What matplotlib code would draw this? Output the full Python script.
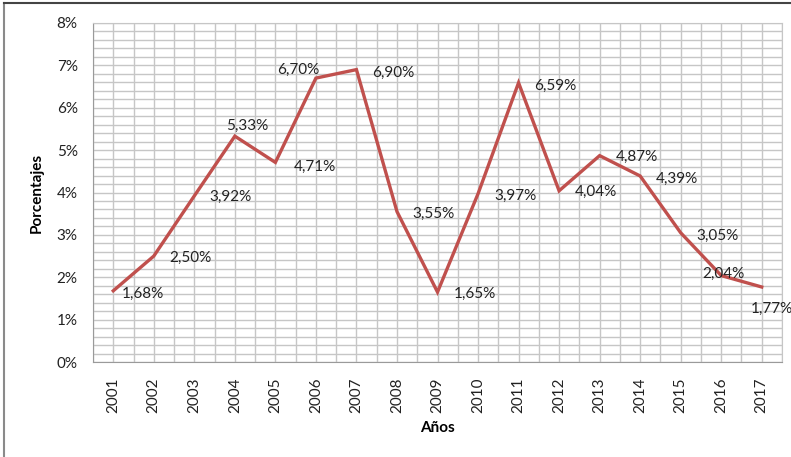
import matplotlib
matplotlib.use("Agg")
import matplotlib.pyplot as plt
from matplotlib.ticker import MultipleLocator, FuncFormatter
from matplotlib.lines import Line2D

years = ['2001', '2002', '2003', '2004', '2005', '2006', '2007', '2008', '2009',
         '2010', '2011', '2012', '2013', '2014', '2015', '2016', '2017']
values = [1.68, 2.50, 3.92, 5.33, 4.71, 6.70, 6.90, 3.55, 1.65,
          3.97, 6.59, 4.04, 4.87, 4.39, 3.05, 2.04, 1.77]
labels = ['1,68%', '2,50%', '3,92%', '5,33%', '4,71%', '6,70%', '6,90%', '3,55%', '1,65%',
          '3,97%', '6,59%', '4,04%', '4,87%', '4,39%', '3,05%', '2,04%', '1,77%']

# label offsets in pixels (dx right, dy up) as placed in the original
offsets = [(30, -3), (37, -2), (36, -1), (12, 10), (40, -4), (-18, 8), (37, -3),
           (37, -2), (37, -2), (37, -2), (37, -3), (37, -1), (37, -1), (37, -3),
           (37, -3), (2, 2), (10, -22)]

plt.rcParams['font.family'] = ['Lato', 'DejaVu Sans']

fig = plt.figure(figsize=(7.91, 4.57), dpi=100)
ax = fig.add_axes([93 / 791, 95 / 457, (782 - 93) / 791, (362 - 23) / 457])

x = list(range(len(years)))
ax.plot(x, values, color='#C0504D', linewidth=2.4, solid_joinstyle='miter', zorder=3)

for i, (v, lab) in enumerate(zip(values, labels)):
    dx, dy = offsets[i]
    ax.annotate(lab, (i, v), xytext=(dx, dy), textcoords='offset pixels',
                ha='center', va='center', fontsize=11, color='#222222',
                annotation_clip=False, zorder=4)

ax.set_xlim(-0.5, len(years) - 0.5)
ax.set_ylim(0, 8)

ax.set_xticks(x)
ax.set_xticklabels(years, rotation=90, fontsize=11, color='#222222')
ax.xaxis.set_minor_locator(MultipleLocator(0.5))
ax.yaxis.set_major_locator(MultipleLocator(1))
ax.yaxis.set_minor_locator(MultipleLocator(0.2))
ax.yaxis.set_major_formatter(FuncFormatter(lambda v, p: f'{v:.0f}%'))
ax.tick_params(axis='both', which='both', length=0, labelsize=11, labelcolor='#222222')
ax.tick_params(axis='x', pad=11)
ax.tick_params(axis='y', pad=11)

ax.grid(True, which='both', color='#c6c6c6', linewidth=1.0)
ax.set_axisbelow(True)
for side in ['top', 'right']:
    ax.spines[side].set_color('#c6c6c6')
for side in ['left', 'bottom']:
    ax.spines[side].set_color('#9a9a9a')

ax.set_xlabel('Años', fontsize=11, fontweight='bold', labelpad=6)
ax.set_ylabel('Porcentajes', fontsize=11, fontweight='bold', labelpad=9)

# outer chart frame (left and top edges visible in the reference)
fig.add_artist(Line2D([4 / 791, 4 / 791], [0, 1 - 3 / 457], transform=fig.transFigure,
                      color='#8a8a8a', linewidth=1.5))
fig.add_artist(Line2D([4 / 791, 1], [1 - 3 / 457, 1 - 3 / 457], transform=fig.transFigure,
                      color='#444444', linewidth=1.5))

fig.savefig('out.png', dpi=100)
